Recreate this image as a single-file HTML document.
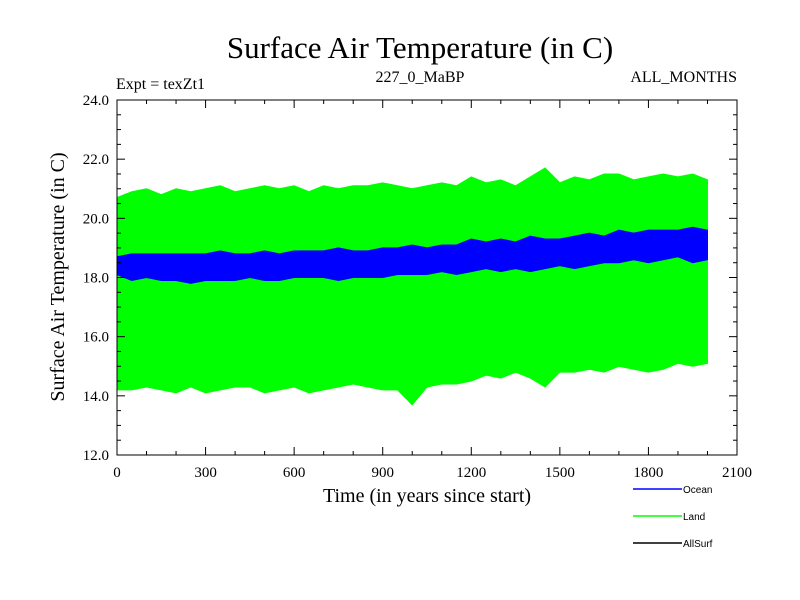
<!DOCTYPE html>
<html><head><meta charset="utf-8"><style>
body{margin:0;background:#fff}
svg{display:block}
.s{font-family:"Liberation Serif",serif;fill:#000}
.l{font-family:"Liberation Sans",sans-serif;font-size:10px;fill:#000}
</style></head><body>
<svg id="c" width="800" height="600">
<text class="s" x="420" y="58" font-size="31" text-anchor="middle">Surface Air Temperature (in C)</text>
<text class="s" x="116" y="89" font-size="16">Expt = texZt1</text>
<text class="s" x="420" y="82" font-size="16" text-anchor="middle">227_0_MaBP</text>
<text class="s" x="737" y="82" font-size="16" text-anchor="end">ALL_MONTHS</text>
<text class="s" x="0" y="0" font-size="20" text-anchor="middle" transform="translate(64,277) rotate(-90)">Surface Air Temperature (in C)</text>
<text class="s" x="427" y="502" font-size="20" text-anchor="middle">Time (in years since start)</text>
<g id="plot"></g>
<g>
<line x1="633" y1="489" x2="682" y2="489" stroke="#0000ff" stroke-width="1.5"/>
<text class="l" x="683" y="493">Ocean</text>
<line x1="633" y1="516" x2="682" y2="516" stroke="#00ff00" stroke-width="1.5"/>
<text class="l" x="683" y="520">Land</text>
<line x1="633" y1="543" x2="682" y2="543" stroke="#000" stroke-width="1.5"/>
<text class="l" x="683" y="547">AllSurf</text>
</g>
</svg>
<script>
const years=[];for(let y=0;y<=2000;y+=50)years.push(y);
const landMax=[20.7,20.9,21.0,20.8,21.0,20.9,21.0,21.1,20.9,21.0,21.1,21.0,21.1,20.9,21.1,21.0,21.1,21.1,21.2,21.1,21.0,21.1,21.2,21.1,21.4,21.2,21.3,21.1,21.4,21.7,21.2,21.4,21.3,21.5,21.5,21.3,21.4,21.5,21.4,21.5,21.3];
const landMin=[14.2,14.2,14.3,14.2,14.1,14.3,14.1,14.2,14.3,14.3,14.1,14.2,14.3,14.1,14.2,14.3,14.4,14.3,14.2,14.2,13.7,14.3,14.4,14.4,14.5,14.7,14.6,14.8,14.6,14.3,14.8,14.8,14.9,14.8,15.0,14.9,14.8,14.9,15.1,15.0,15.1];
const oceanMax=[18.7,18.8,18.8,18.8,18.8,18.8,18.8,18.9,18.8,18.8,18.9,18.8,18.9,18.9,18.9,19.0,18.9,18.9,19.0,19.0,19.1,19.0,19.1,19.1,19.3,19.2,19.3,19.2,19.4,19.3,19.3,19.4,19.5,19.4,19.6,19.5,19.6,19.6,19.6,19.7,19.6];
const oceanMin=[18.1,17.9,18.0,17.9,17.9,17.8,17.9,17.9,17.9,18.0,17.9,17.9,18.0,18.0,18.0,17.9,18.0,18.0,18.0,18.1,18.1,18.1,18.2,18.1,18.2,18.3,18.2,18.3,18.2,18.3,18.4,18.3,18.4,18.5,18.5,18.6,18.5,18.6,18.7,18.5,18.6];
const xTicks=[0,300,600,900,1200,1500,1800,2100];
const yTicks=[12,14,16,18,20,22,24];
const X0=117,X1=737,Y0=455,Y1=100;
const sx=v=>X0+(v/2100)*(X1-X0);
const sy=v=>Y0-((v-12)/12)*(Y0-Y1);
const NS="http://www.w3.org/2000/svg";
const g=document.getElementById('plot');
function mk(t,a){const e=document.createElementNS(NS,t);for(const k in a)e.setAttribute(k,a[k]);g.appendChild(e);return e;}
function band(hi,lo,col,name){
  let pts=years.map((y,i)=>sx(y)+','+sy(hi[i]));
  for(let i=years.length-1;i>=0;i--)pts.push(sx(years[i])+','+sy(lo[i]));
  const p=mk('polygon',{points:pts.join(' '),fill:col,stroke:col,'stroke-width':1});
  
  
}
band(landMax,landMin,'#00ff00','land-series');
band(oceanMax,oceanMin,'#0000ff','ocean-series');
const fr=mk('rect',{x:X0,y:Y1,width:X1-X0,height:Y0-Y1,fill:'none',stroke:'#000','stroke-width':1});


for(let v=0;v<=2100;v+=100){const M=v%300===0,L=M?8:4,x=sx(v);
  mk('line',{x1:x,y1:Y0,x2:x,y2:Y0-L,stroke:'#000'});mk('line',{x1:x,y1:Y1,x2:x,y2:Y1+L,stroke:'#000'});}
for(let v=12;v<=24.001;v+=0.5){const M=Math.abs(v-Math.round(v/2)*2)<0.01,L=M?8:4,y=sy(v);
  mk('line',{x1:X0,y1:y,x2:X0+L,y2:y,stroke:'#000'});mk('line',{x1:X1,y1:y,x2:X1-L,y2:y,stroke:'#000'});}
xTicks.forEach(v=>{const t=mk('text',{x:sx(v),y:477,'text-anchor':'middle','font-size':15,class:'s'});t.textContent=v;
  
  });
yTicks.forEach(v=>{const t=mk('text',{x:109,y:sy(v)+5,'text-anchor':'end','font-size':15,class:'s'});t.textContent=v.toFixed(1);
  
  });
</script>
</body></html>
